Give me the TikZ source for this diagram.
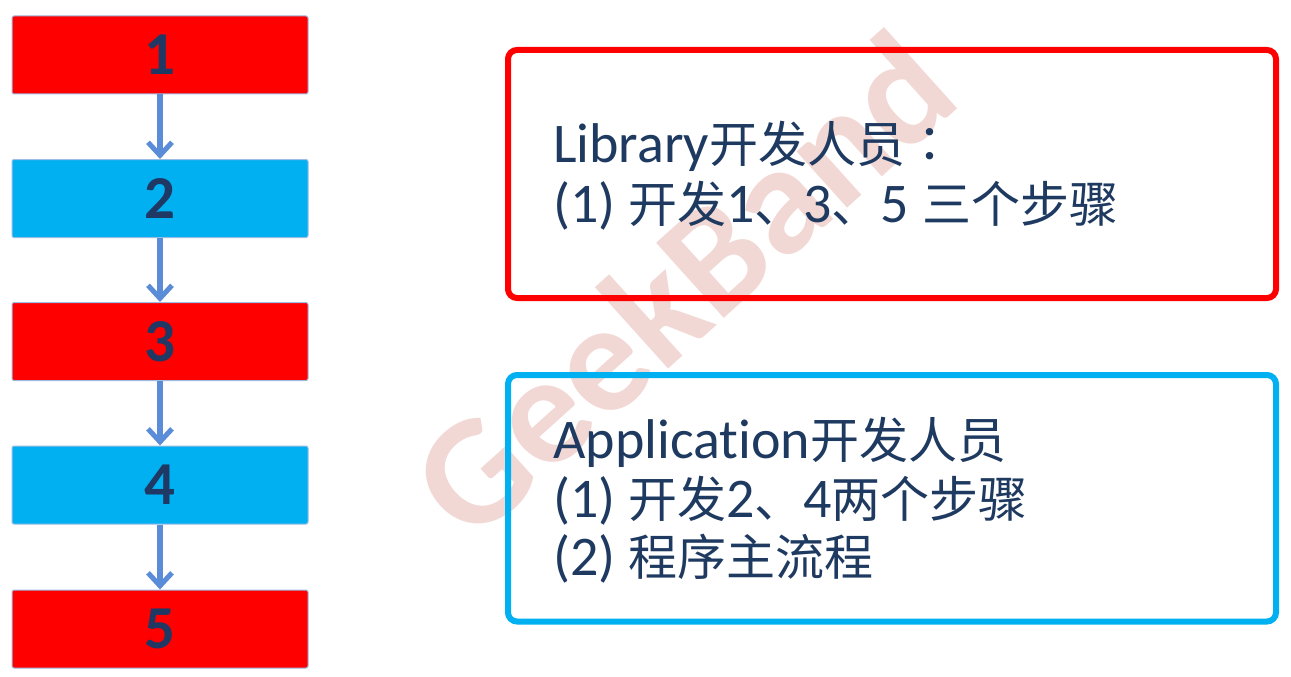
\documentclass[tikz,border=0pt]{standalone}
\usepackage{fontspec}
\setmainfont{Carlito}[Ligatures=NoCommon]
\newfontfamily\cjkfont{Noto Sans CJK SC}
\newfontfamily\cjktc{Noto Sans CJK TC}
\usetikzlibrary{arrows.meta}
\definecolor{stepred}{HTML}{FF0000}
\definecolor{stepblue}{HTML}{00B0F0}
\definecolor{navy}{HTML}{1F3864}
\definecolor{arrowblue}{HTML}{5A8CD7}
\definecolor{boxedge}{HTML}{9DBCE3}
\definecolor{wmark}{HTML}{F2D8D4}
\definecolor{textnavy}{HTML}{1F3A60}
\newcommand\zh[1]{{\cjkfont\fontsize{49}{58}\selectfont #1}}
\newcommand\zhc[1]{{\cjktc\fontsize{49}{58}\selectfont #1}}
\begin{document}
\begin{tikzpicture}[x=1pt,y=-1pt,
 stepbox/.style={draw=boxedge, line width=1pt, rounded corners=2pt, minimum width=296pt, minimum height=78pt, inner sep=0pt, text=navy, font=\fontsize{61}{61}\selectfont\bfseries},
 redstep/.style={stepbox, fill=stepred},
 bluestep/.style={stepbox, fill=stepblue},
 flow/.style={draw=arrowblue, line width=5.5pt, -{Straight Barb[length=13pt,width=24pt,line width=5pt]}},
 frame/.style={line width=6pt, rounded corners=9pt, inner sep=0pt},
 desc/.style={anchor=base west, inner sep=0pt, text=textnavy, font=\fontsize{56}{58}\selectfont}
]
\useasboundingbox (0,0) rectangle (1291,677);
\fill[white] (0,0) rectangle (1291,677);
\node[rotate=42, text=wmark, inner sep=0pt, font=\fontsize{156}{156}\selectfont\bfseries] (wm) at (682,284) {GeekBand};

\node[redstep]  (s1) at (160,55)    {1};
\node[bluestep] (s2) at (160,198.5) {2};
\node[redstep]  (s3) at (160,341.5) {3};
\node[bluestep] (s4) at (160,485)   {4};
\node[redstep]  (s5) at (160,629)   {5};

\draw[flow] (s1) -- (s2);
\draw[flow] (s2) -- (s3);
\draw[flow] (s3) -- (s4);
\draw[flow] (s4) -- (s5);

\node[frame, draw=stepred, minimum width=768pt, minimum height=248pt] (libframe) at (892,174) {};
\node[frame, draw=stepblue, minimum width=768pt, minimum height=246.5pt] (appframe) at (892,498.25) {};

\node[desc] (lib1) at (553,162) {Library\zh{开发人员}\zhc{：}};
\node[desc] (lib2) at (553,222) {(1) \zh{开发}1\zh{、}3\zh{、}5 \zh{三个步骤}};
\node[desc] (app1) at (553,458) {Application\zh{开发人员}};
\node[desc] (app2) at (553,517) {(1) \zh{开发}2\zh{、}4\zh{两个步骤}};
\node[desc] (app3) at (553,575) {(2) \zh{程序主流程}};
\end{tikzpicture}
\end{document}
